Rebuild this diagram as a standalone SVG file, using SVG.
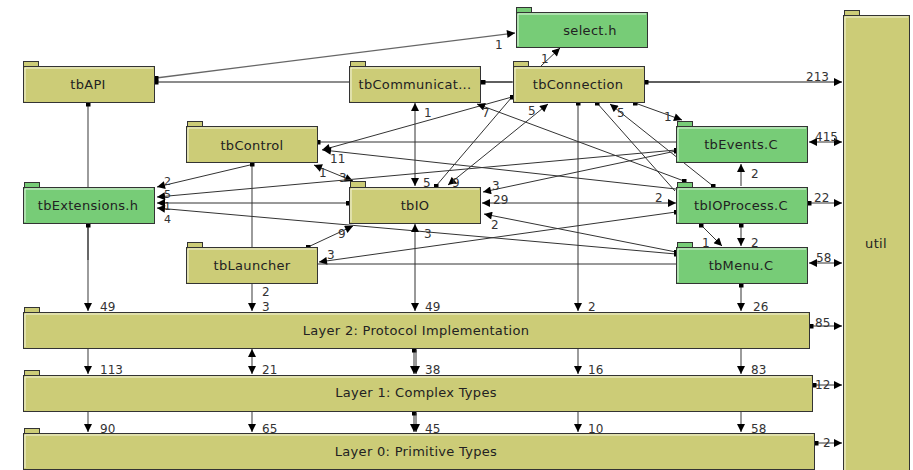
<svg xmlns="http://www.w3.org/2000/svg" width="913" height="470" viewBox="0 0 913 470">
<style>
.body{stroke:#333;stroke-width:1}
.olive .body,.olive .tab{fill:#cccc77}
.green .body,.green .tab{fill:#77cc77}
.tab{stroke:#333;stroke-width:1}
.hl{fill:none;stroke:#f4f4e0;stroke-width:1}
.green .hl{stroke:#e6f6e6}
.nt{font-family:"DejaVu Sans",sans-serif;font-size:13px;letter-spacing:0.3px;fill:#222;text-anchor:middle}
.e{stroke:#333;stroke-width:1;fill:none}
.g{stroke:#666;stroke-width:1.3}
.a{marker-end:url(#ah)}
.b{marker-start:url(#ah);marker-end:url(#ah)}
.s{marker-start:url(#sq)}
.sa{marker-start:url(#sq);marker-end:url(#ah)}
.lb{font-family:"DejaVu Sans",sans-serif;font-size:12px;fill:#333}
.sm{font-size:11px}
</style>
<defs>
<marker id="ah" viewBox="0 0 10 10" refX="10" refY="5" markerWidth="9" markerHeight="8" markerUnits="userSpaceOnUse" orient="auto-start-reverse"><path d="M0,0 L10,5 L0,10 z" fill="#000"/></marker>
<marker id="sq" viewBox="0 0 6 6" refX="3" refY="3" markerWidth="5" markerHeight="5" markerUnits="userSpaceOnUse"><rect width="6" height="6" fill="#000"/></marker>
</defs>
<rect width="913" height="470" fill="#fff"/>
<g id="connectors">
<line class="e g sa" x1="156" y1="78" x2="515" y2="33"/>
<line class="e g sa" x1="156" y1="82" x2="842" y2="82"/>
<line class="e s" x1="483" y1="82" x2="512" y2="82"/>
<line class="e s" x1="646" y1="82" x2="700" y2="82"/>
<line class="e a" x1="541" y1="66" x2="560" y2="48"/>
<line class="e g sa" x1="88" y1="104" x2="88" y2="311"/>
<line class="e s" x1="88" y1="225" x2="88" y2="260"/>
<line class="e g sa" x1="252" y1="164" x2="252" y2="311"/>
<line class="e a" x1="250" y1="165" x2="157" y2="187"/>
<line class="e b" x1="415" y1="103" x2="415" y2="186"/>
<line class="e s" x1="436" y1="186" x2="512" y2="97"/>
<line class="e sa" x1="512" y1="97" x2="322" y2="150"/>
<line class="e b" x1="448" y1="185" x2="548" y2="104"/>
<line class="e sa" x1="684" y1="181" x2="477" y2="104"/>
<line class="e s" x1="597" y1="103" x2="675" y2="191"/>
<line class="e sa" x1="713" y1="186" x2="610" y2="104"/>
<line class="e sa" x1="635" y1="103" x2="682" y2="120"/>
<line class="e sa" x1="578" y1="103" x2="578" y2="311"/>
<line class="e s" x1="318" y1="142" x2="676" y2="142"/>
<line class="e a" x1="676" y1="189" x2="323" y2="150"/>
<line class="e b" x1="314" y1="165" x2="353" y2="181"/>
<line class="e sa" x1="676" y1="150" x2="157" y2="197"/>
<line class="e sa" x1="676" y1="151" x2="483" y2="192"/>
<line class="e sa" x1="348" y1="203" x2="157" y2="203"/>
<line class="e sa" x1="676" y1="254" x2="157" y2="208"/>
<line class="e b" x1="676" y1="203" x2="482" y2="203"/>
<line class="e sa" x1="676" y1="252" x2="484" y2="214"/>
<line class="e sa" x1="308" y1="247" x2="353" y2="226"/>
<line class="e b" x1="415" y1="224" x2="415" y2="311"/>
<line class="e sa" x1="676" y1="212" x2="319" y2="262"/>
<line class="e" x1="318" y1="264" x2="676" y2="264"/>
<line class="e a" x1="741" y1="186" x2="741" y2="164"/>
<line class="e sa" x1="741" y1="225" x2="741" y2="246"/>
<line class="e sa" x1="701" y1="225" x2="722" y2="246"/>
<line class="e sa" x1="741" y1="285" x2="741" y2="311"/>
<line class="e b" x1="809" y1="142" x2="842" y2="142"/>
<line class="e sa" x1="809" y1="203" x2="842" y2="203"/>
<line class="e b" x1="809" y1="263" x2="842" y2="263"/>
<line class="e sa" x1="811" y1="326" x2="842" y2="326"/>
<line class="e sa" x1="814" y1="385" x2="842" y2="385"/>
<line class="e sa" x1="816" y1="443" x2="842" y2="443"/>
<line class="e g a" x1="88" y1="349" x2="88" y2="374"/>
<line class="e g b" x1="252" y1="349" x2="252" y2="374"/>
<line class="e sa" x1="414" y1="350" x2="414" y2="374"/>
<line class="e a" x1="416" y1="350" x2="416" y2="374"/>
<line class="e g a" x1="578" y1="349" x2="578" y2="374"/>
<line class="e g a" x1="741" y1="349" x2="741" y2="374"/>
<line class="e g a" x1="88" y1="412" x2="88" y2="432"/>
<line class="e g a" x1="252" y1="412" x2="252" y2="432"/>
<line class="e sa" x1="414" y1="413" x2="414" y2="432"/>
<line class="e a" x1="416" y1="413" x2="416" y2="432"/>
<line class="e g a" x1="578" y1="412" x2="578" y2="432"/>
<line class="e g a" x1="741" y1="412" x2="741" y2="432"/>
</g>
<g id="tbAPI" class="olive"><rect class="tab" x="23.5" y="61.5" width="15" height="5"/><rect class="body" x="23.5" y="66.5" width="131" height="36"/><path class="hl" d="M25,101 V68 H153"/><text class="nt" x="88" y="89">tbAPI</text></g>
<g id="select" class="green"><rect class="tab" x="516.5" y="7.5" width="15" height="5"/><rect class="body" x="516.5" y="12.5" width="131" height="35"/><path class="hl" d="M518,46 V14 H646"/><text class="nt" x="590" y="35">select.h</text></g>
<g id="tbCommunicat" class="olive"><rect class="tab" x="350.5" y="61.5" width="15" height="5"/><rect class="body" x="349.5" y="66.5" width="131" height="36"/><path class="hl" d="M351,101 V68 H479"/><text class="nt" x="415" y="89">tbCommunicat...</text></g>
<g id="tbConnection" class="olive"><rect class="tab" x="513.5" y="61.5" width="15" height="5"/><rect class="body" x="513.5" y="66.5" width="131" height="36"/><path class="hl" d="M515,101 V68 H643"/><text class="nt" x="578" y="89">tbConnection</text></g>
<g id="tbControl" class="olive"><rect class="tab" x="187.5" y="121.5" width="15" height="5"/><rect class="body" x="186.5" y="126.5" width="131" height="36"/><path class="hl" d="M188,161 V128 H316"/><text class="nt" x="252" y="150">tbControl</text></g>
<g id="tbEvents" class="green"><rect class="tab" x="677.5" y="121.5" width="15" height="5"/><rect class="body" x="676.5" y="126.5" width="131" height="36"/><path class="hl" d="M678,161 V128 H806"/><text class="nt" x="741" y="149">tbEvents.C</text></g>
<g id="tbExtensions" class="green"><rect class="tab" x="24.5" y="182.5" width="15" height="5"/><rect class="body" x="23.5" y="187.5" width="131" height="36"/><path class="hl" d="M25,222 V189 H153"/><text class="nt" x="88" y="210">tbExtensions.h</text></g>
<g id="tbIO" class="olive"><rect class="tab" x="350.5" y="181.5" width="15" height="6"/><rect class="body" x="349.5" y="187.5" width="131" height="36"/><path class="hl" d="M351,222 V189 H479"/><text class="nt" x="415" y="210">tbIO</text></g>
<g id="tbIOProcess" class="green"><rect class="tab" x="677.5" y="182.5" width="15" height="5"/><rect class="body" x="676.5" y="187.5" width="131" height="36"/><path class="hl" d="M678,222 V189 H806"/><text class="nt" x="741" y="210">tbIOProcess.C</text></g>
<g id="tbLauncher" class="olive"><rect class="tab" x="187.5" y="242.5" width="15" height="5"/><rect class="body" x="186.5" y="247.5" width="131" height="36"/><path class="hl" d="M188,282 V249 H316"/><text class="nt" x="252" y="270">tbLauncher</text></g>
<g id="tbMenu" class="green"><rect class="tab" x="677.5" y="242.5" width="15" height="5"/><rect class="body" x="676.5" y="247.5" width="131" height="36"/><path class="hl" d="M678,282 V249 H806"/><text class="nt" x="741" y="270">tbMenu.C</text></g>
<g id="util" class="olive"><rect class="tab" x="844.5" y="10.5" width="15" height="5"/><rect class="body" x="843.5" y="15.5" width="66" height="460"/><path class="hl" d="M845,470 V17 H908"/><text class="nt" x="876" y="248">util</text></g>
<g id="layer2" class="olive"><rect class="tab" x="24.5" y="307.5" width="15" height="5"/><rect class="body" x="23.5" y="312.5" width="786" height="36"/><path class="hl" d="M25,347 V314 H808"/><text class="nt" x="416" y="335">Layer 2: Protocol Implementation</text></g>
<g id="layer1" class="olive"><rect class="tab" x="24.5" y="370.5" width="15" height="5"/><rect class="body" x="23.5" y="375.5" width="789" height="36"/><path class="hl" d="M25,410 V377 H811"/><text class="nt" x="416" y="397">Layer 1: Complex Types</text></g>
<g id="layer0" class="olive"><rect class="tab" x="24.5" y="428.5" width="15" height="5"/><rect class="body" x="23.5" y="433.5" width="791" height="36"/><path class="hl" d="M25,468 V435 H813"/><text class="nt" x="416" y="456">Layer 0: Primitive Types</text></g>
<g id="edge-labels" class="lb">
<text x="495" y="49">1</text>
<text x="806" y="81">213</text>
<text x="541" y="63">1</text>
<text x="100" y="311">49</text>
<text x="262" y="296">2</text><text x="262" y="311">3</text>
<text class="sm" x="164" y="185">2</text>
<text x="424" y="117">1</text>
<text x="423" y="187">5</text>
<text x="452" y="187">9</text>
<text x="528" y="115">5</text>
<text x="482" y="117">7</text>
<text x="617" y="117">5</text>
<text x="664" y="121">1</text>
<text x="588" y="311">2</text>
<text x="330" y="163">11</text>
<text x="319" y="177">1</text>
<text x="339" y="182">3</text>
<text class="sm" x="164" y="198">5</text><text class="sm" x="164" y="210">1</text>
<text class="sm" x="164" y="223">4</text>
<text x="492" y="190">3</text>
<text x="493" y="204">29</text>
<text x="655" y="202">2</text>
<text x="491" y="229">2</text>
<text x="338" y="238">9</text>
<text x="424" y="238">3</text>
<text x="425" y="311">49</text>
<text x="327" y="259">3</text>
<text x="751" y="178">2</text>
<text x="751" y="247">2</text>
<text x="702" y="247">1</text>
<text x="753" y="311">26</text>
<text x="815" y="141">415</text>
<text x="814" y="202">22</text>
<text x="816" y="262">58</text>
<text x="815" y="327">85</text>
<text x="815" y="389">12</text>
<text x="823" y="447">2</text>
<text x="100" y="374">113</text>
<text x="262" y="374">21</text>
<text x="425" y="374">38</text>
<text x="588" y="374">16</text>
<text x="751" y="374">83</text>
<text x="100" y="433">90</text>
<text x="262" y="433">65</text>
<text x="425" y="433">45</text>
<text x="588" y="433">10</text>
<text x="751" y="433">58</text>
</g>
</svg>
